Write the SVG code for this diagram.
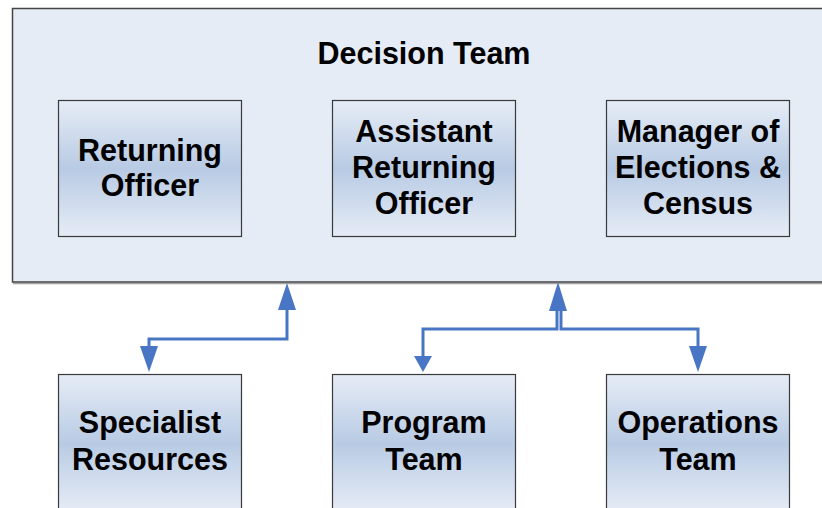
<svg xmlns="http://www.w3.org/2000/svg" width="822" height="508" viewBox="0 0 822 508">
<defs>
<linearGradient id="g" x1="0" y1="0" x2="0" y2="1">
<stop offset="0" stop-color="#e6ecf6"/>
<stop offset="0.5" stop-color="#b8cbe4"/>
<stop offset="1" stop-color="#e6ecf6"/>
</linearGradient>
<style>
.box{fill:url(#g);stroke:#3a3a3a;stroke-width:1.2}
.sh{fill:none;stroke:#a0a0a0;stroke-width:1.5}
.t{font-family:"Liberation Sans",Arial,sans-serif;font-weight:bold;font-size:30.5px;fill:#000;text-anchor:middle}
.ln{fill:none;stroke:#4876c4;stroke-width:3}
.ah{fill:#4876c4}
</style>
</defs>
<rect width="822" height="508" fill="#fff"/>
<g id="decision-team">
<path class="sh" d="M13,283.5 H822"/>
<rect x="12.5" y="8.5" width="812" height="273.5" fill="#e6ecf6" stroke="#444" stroke-width="1.5"/>
<text class="t" x="424" y="64">Decision Team</text>
</g>
<g id="returning-officer">
<rect class="box" x="58.5" y="100.5" width="183" height="136"/>
<text class="t" x="150" y="161">Returning</text>
<text class="t" x="150" y="196">Officer</text>
</g>
<g id="assistant-returning-officer">
<rect class="box" x="332.5" y="100.5" width="183" height="136"/>
<text class="t" x="424" y="142">Assistant</text>
<text class="t" x="424" y="178">Returning</text>
<text class="t" x="424" y="214">Officer</text>
</g>
<g id="manager-elections-census">
<rect class="box" x="606.5" y="100.5" width="183" height="136"/>
<text class="t" x="698" y="142">Manager of</text>
<text class="t" x="698" y="178">Elections &amp;</text>
<text class="t" x="698" y="214">Census</text>
</g>
<g id="specialist-resources">
<rect class="box" x="58.5" y="374.5" width="183" height="137"/>
<text class="t" x="150" y="433">Specialist</text>
<text class="t" x="150" y="470">Resources</text>
</g>
<g id="program-team">
<rect class="box" x="332.5" y="374.5" width="183" height="137"/>
<text class="t" x="424" y="433">Program</text>
<text class="t" x="424" y="470">Team</text>
</g>
<g id="operations-team">
<rect class="box" x="606.5" y="374.5" width="183" height="137"/>
<text class="t" x="698" y="433">Operations</text>
<text class="t" x="698" y="470">Team</text>
</g>
<g id="connectors">
<path class="ln" d="M149,347 V339 H287 V309"/>
<polygon class="ah" points="278,310 296,310 287,283"/>
<polygon class="ah" points="140,346 158,346 149,372"/>
<path class="ln" d="M423,357 V329 H557 V309"/>
<path class="ln" d="M698,347 V329 H561 V309"/>
<polygon class="ah" points="549,311 567,311 558,282"/>
<polygon class="ah" points="414,356 432,356 423,372"/>
<polygon class="ah" points="689,346 707,346 698,372"/>
</g>
</svg>
